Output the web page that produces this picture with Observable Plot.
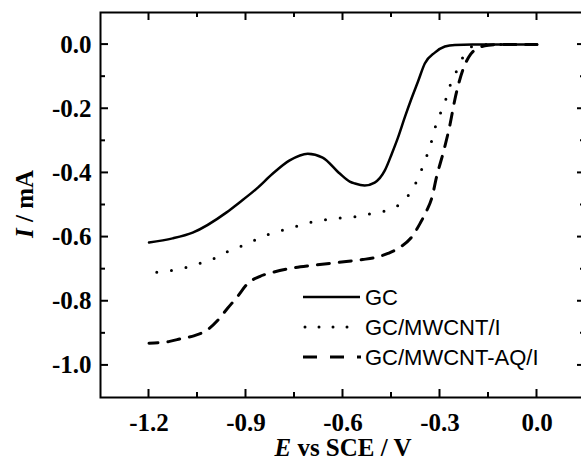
<!DOCTYPE html>
<html><head><meta charset="utf-8">
<script src="https://cdn.jsdelivr.net/npm/d3@7"></script>
<script src="https://cdn.jsdelivr.net/npm/@observablehq/plot@0.6"></script>
<style>
html,body{margin:0;padding:0;background:#fff;overflow:hidden;}
#chart{position:relative;width:581px;height:462px;overflow:hidden;}
svg{display:block;max-width:none !important;}
</style></head><body><div id="chart"></div>
<script>
// GC (solid)
const gcE = [-1.2, -1.127, -1.065, -0.96, -0.92, -0.867, -0.817, -0.765, -0.709, -0.663, -0.61, -0.579, -0.563, -0.533, -0.502, -0.471, -0.449, -0.43, -0.409, -0.387, -0.368, -0.347, -0.316, -0.285, -0.254, -0.2, 0];
const gcI = [-0.617, -0.604, -0.586, -0.523, -0.492, -0.449, -0.402, -0.361, -0.340, -0.352, -0.402, -0.427, -0.433, -0.439, -0.430, -0.393, -0.340, -0.290, -0.227, -0.165, -0.115, -0.059, -0.025, -0.006, -0.001, 0, 0];
// GC/MWCNT/I (dotted)
const mwE = [-1.2, -1.176, -1.13, -1.087, -1.043, -1.0, -0.957, -0.91, -0.867, -0.824, -0.777, -0.734, -0.687, -0.644, -0.598, -0.554, -0.508, -0.464, -0.418, -0.384, -0.362, -0.344, -0.328, -0.316, -0.3, -0.282, -0.269, -0.248, -0.226, -0.201, -0.161, 0];
const mwI = [-0.712, -0.710, -0.704, -0.695, -0.682, -0.667, -0.645, -0.626, -0.607, -0.589, -0.576, -0.564, -0.551, -0.545, -0.539, -0.536, -0.526, -0.517, -0.492, -0.449, -0.402, -0.355, -0.308, -0.262, -0.218, -0.171, -0.128, -0.081, -0.034, -0.006, 0, 0];
// GC/MWCNT-AQ/I (dashed)
const aqE = [-1.2, -1.136, -1.099, -1.059, -1.022, -0.988, -0.957, -0.926, -0.895, -0.858, -0.817, -0.765, -0.693, -0.616, -0.539, -0.502, -0.461, -0.424, -0.384, -0.362, -0.341, -0.325, -0.311, -0.289, -0.269, -0.254, -0.229, -0.205, -0.18, -0.15, -0.115, 0];
const aqI = [-0.931, -0.925, -0.916, -0.907, -0.891, -0.860, -0.822, -0.785, -0.745, -0.723, -0.710, -0.698, -0.688, -0.679, -0.670, -0.664, -0.651, -0.632, -0.595, -0.558, -0.517, -0.477, -0.414, -0.333, -0.249, -0.171, -0.078, -0.030, -0.010, -0.002, 0, 0];

const seriesNames = ["GC", "GC/MWCNT/I", "GC/MWCNT-AQ/I"];
const xTicks = [-1.2, -0.9, -0.6, -0.3, 0.0];
const xMinor = [-1.05, -0.75, -0.45, -0.15];
const yTicks = [0.0, -0.2, -0.4, -0.6, -0.8, -1.0];
const yMinor = [-0.1, -0.3, -0.5, -0.7, -0.9];

const rows = (E, I) => E.map((e, i) => ({E: e, I: I[i]}));
const fmt = d => (Math.abs(d) < 1e-9 ? 0 : d).toFixed(1);

const W = 600, H = 462, mL = 100, mR = 15, mT = 12, mB = 65;

const plot = Plot.plot({
  width: W, height: H,
  marginLeft: mL, marginRight: mR, marginTop: mT, marginBottom: mB,
  x: {domain: [-1.35, 0.15]},
  y: {domain: [-1.1, 0.1]},
  style: {fontFamily: "'Liberation Serif', 'Times New Roman', serif", fontSize: "25px", fontWeight: "bold", background: "white", color: "black", overflow: "visible", maxWidth: "none"},
  marks: [
    Plot.axisX(xTicks, {anchor: "bottom", tickSize: 0, tickPadding: 16, tickFormat: fmt, label: null}),
    Plot.axisY(yTicks, {anchor: "left", tickSize: 0, tickPadding: 9, tickFormat: fmt, label: null}),
    Plot.line(rows(gcE, gcI), {x: "E", y: "I", stroke: "black", strokeWidth: 2.5, curve: "monotone-x"}),
    Plot.line(rows(mwE, mwI), {x: "E", y: "I", stroke: "black", strokeWidth: 3, curve: "monotone-x", strokeDasharray: "0 14.8", strokeLinecap: "round", strokeDashoffset: 7}),
    Plot.line(rows(aqE, aqI), {x: "E", y: "I", stroke: "black", strokeWidth: 3, curve: "monotone-x", strokeDasharray: "12 10", strokeDashoffset: 3}),
    Plot.frame({stroke: "black", strokeWidth: 2})
  ]
});

const svgSel = d3.select(plot);
const scX = plot.scale("x"), scY = plot.scale("y");
const edgeL = mL, edgeR = W - mR, edgeT = mT, edgeB = H - mB;

// Inward tick marks on all four sides, placed with Plot's own scales
const tickG = svgSel.append("g").attr("stroke", "black").attr("stroke-width", 2);
const addXTicks = (vals, len) => vals.forEach(v => {
  const px = scX.apply(v);
  tickG.append("line").attr("x1", px).attr("x2", px).attr("y1", edgeB).attr("y2", edgeB - len);
  tickG.append("line").attr("x1", px).attr("x2", px).attr("y1", edgeT).attr("y2", edgeT + len);
});
const addYTicks = (vals, len) => vals.forEach(v => {
  const py = scY.apply(v);
  tickG.append("line").attr("y1", py).attr("y2", py).attr("x1", edgeL).attr("x2", edgeL + len);
  tickG.append("line").attr("y1", py).attr("y2", py).attr("x1", edgeR).attr("x2", edgeR - len);
});
addXTicks(xTicks, 8); addXTicks(xMinor, 5);
addYTicks(yTicks, 8); addYTicks(yMinor, 5);

// Axis titles
const yTitle = svgSel.append("text")
  .attr("transform", "translate(24,204) rotate(-90)")
  .attr("text-anchor", "middle").attr("dominant-baseline", "central")
  .attr("font-size", 25).attr("font-weight", "bold").attr("fill", "black");
yTitle.append("tspan").attr("font-style", "italic").text("I");
yTitle.append("tspan").text(" / mA");

const xTitle = svgSel.append("text")
  .attr("x", 343).attr("y", 456)
  .attr("text-anchor", "middle")
  .attr("font-size", 25).attr("font-weight", "bold").attr("fill", "black");
xTitle.append("tspan").attr("font-style", "italic").text("E");
xTitle.append("tspan").text(" vs SCE / V");

// Legend
const legStyles = [
  {dash: null, cap: "butt", w: 2.5, x1: 303, x2: 360},
  {dash: "0 14", cap: "round", w: 3, x1: 305, x2: 352},
  {dash: "14 13", cap: "butt", w: 3, x1: 303, x2: 361}
];
const legG = svgSel.append("g");
seriesNames.forEach((name, i) => {
  const ly = 297 + i * 30;
  const s = legStyles[i];
  const ln = legG.append("line").attr("x1", s.x1).attr("x2", s.x2).attr("y1", ly).attr("y2", ly)
    .attr("stroke", "black").attr("stroke-width", s.w).attr("stroke-linecap", s.cap);
  if (s.dash) ln.attr("stroke-dasharray", s.dash);
  legG.append("text").attr("x", 365).attr("y", ly).attr("dominant-baseline", "central")
    .attr("text-anchor", "start")
    .attr("font-family", "'Liberation Sans', Arial, sans-serif").attr("font-size", 22)
    .attr("font-weight", "normal").attr("fill", "black").text(name);
});

document.getElementById("chart").appendChild(plot);
</script></body></html>
